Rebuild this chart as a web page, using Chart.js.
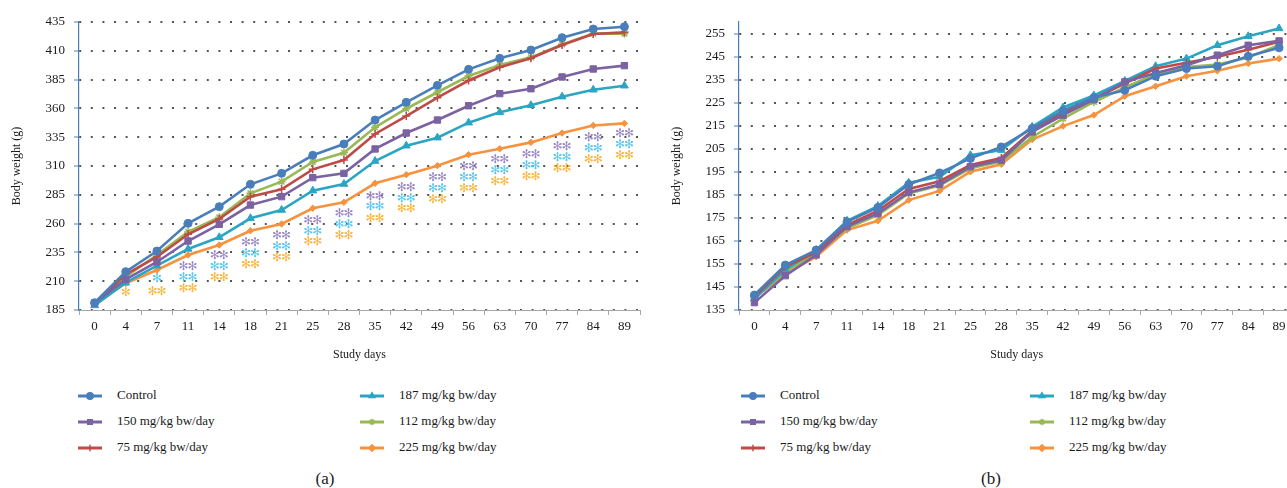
<!DOCTYPE html>
<html>
<head>
<meta charset="utf-8">
<script src="https://cdn.jsdelivr.net/npm/chart.js@4.4.1/dist/chart.umd.min.js"></script>
<style>
  html, body { margin: 0; padding: 0; background: #fff; width: 1287px; height: 488px; overflow: hidden; }
  .wrap { position: absolute; top: 0; width: 650px; height: 370px; }
  .leg { position: absolute; font: 13px "Liberation Serif", serif; color: #1a1a1a; white-space: nowrap; line-height: 14px; }
  .mark { position: absolute; }
  .cap { position: absolute; font: 17px "Liberation Serif", serif; color: #1a1a1a; transform: translateX(-50%); }
</style>
</head>
<body>
<div class="wrap" style="left:0"><canvas id="chartA"></canvas></div>
<div class="wrap" style="left:650px"><canvas id="chartB"></canvas></div>
<div id="legends"></div>
<div class="cap" style="left:325px;top:469px">(a)</div>
<div class="cap" style="left:991px;top:469px">(b)</div>
<script>
// x categories (study days)
const days = ["0", "4", "7", "11", "14", "18", "21", "25", "28", "35", "42", "49", "56", "63", "70", "77", "84", "89"];

// y tick labels
const yTicksA = [185, 210, 235, 260, 285, 310, 335, 360, 385, 410, 435];
const yTicksB = [135, 145, 155, 165, 175, 185, 195, 205, 215, 225, 235, 245, 255];

const seriesNames = ["Control", "150 mg/kg bw/day", "75 mg/kg bw/day", "187 mg/kg bw/day", "112 mg/kg bw/day", "225 mg/kg bw/day"];

// panel (a) body weights
const controlA = [191.3, 218.3, 236.2, 260.2, 274.7, 294.1, 303.6, 319.3, 329.1, 349.9, 365.3, 380.0, 393.9, 403.5, 410.7, 421.4, 428.9, 430.9];
const dose150A = [191, 211.6, 226.7, 244.9, 259.4, 276.1, 283.4, 299.9, 303.6, 324.8, 338.6, 349.9, 362.3, 372.8, 377.1, 387.3, 394.2, 397.1];
const dose75A = [191, 216, 231, 250.7, 264, 283.4, 289.8, 307.1, 315.2, 337.8, 353.4, 369.3, 384.2, 395.7, 403.5, 415, 424.6, 426];
const dose187A = [189, 208.7, 223.5, 238, 248.1, 264.6, 271.8, 288.6, 294.4, 314.3, 327.6, 334.6, 347.6, 356.6, 362.7, 370.2, 376.2, 379.7];
const dose112A = [191, 214, 232.7, 252.8, 265.5, 286.3, 296.4, 313.5, 321.5, 343.6, 359.7, 374, 388.1, 397.7, 404.3, 415.6, 424.9, 424.9];
const dose225A = [190.8, 208.2, 219.7, 232.7, 241.4, 253.8, 259.7, 273.3, 278.5, 295, 302.5, 310.3, 319.8, 325, 330.5, 338.6, 345.2, 347];

// panel (a) significance marks and where they sit
const stars150A = ["", "", "", "**", "**", "**", "**", "**", "**", "**", "**", "**", "**", "**", "**", "**", "**", "**"];
const stars150AY = [null, null, null, 222.6, 231.9, 242.9, 249.2, 262.3, 268.3, 283.4, 291.2, 299.3, 308.9, 315.2, 319.8, 326.5, 334.3, 337.5];
const stars187A = ["", "", "*", "**", "**", "**", "**", "**", "**", "**", "**", "**", "**", "**", "**", "**", "**", "**"];
const stars187AY = [null, null, 212, 213, 222.6, 233.6, 239.9, 253, 258.8, 274.3, 281.6, 290, 299.3, 305.7, 310.3, 316.9, 324.8, 328];
const stars225A = ["", "*", "**", "**", "**", "**", "**", "**", "**", "**", "**", "**", "**", "**", "**", "**", "**", "**"];
const stars225AY = [null, 199.7, 200.6, 203.5, 213, 224, 230.4, 243.8, 249.2, 264, 272.4, 280.5, 289.8, 296.1, 300.9, 307.4, 315.2, 318.4];

// panel (b) body weights
const controlB = [141.5, 154.5, 161, 173.3, 179.5, 189.5, 194.5, 200.8, 205.8, 213.8, 221.5, 227.2, 230.4, 236.5, 239.8, 240.8, 245.1, 248.8];
const dose150B = [138.2, 149.9, 158.9, 171.2, 176.9, 186, 189.5, 197.2, 200, 212.3, 219.6, 226.3, 234, 237.9, 241.2, 245.6, 249.9, 251.8];
const dose75B = [140.7, 153.8, 160, 171.9, 178.1, 187.5, 190.9, 197.9, 201, 212.8, 220.6, 226.8, 233.3, 239.8, 242.3, 244.9, 248, 251.4];
const dose187B = [140, 152.5, 161, 173.7, 180.1, 190.2, 192.8, 202.2, 204.4, 214.5, 222.9, 228.1, 234.4, 240.8, 244.1, 249.9, 253.8, 257.2];
const dose112B = [140, 151.6, 159.6, 170.5, 176.2, 185.6, 189, 196.5, 199.4, 210.1, 218.1, 225.3, 231.6, 237.4, 240.5, 241.5, 244.6, 250];
const dose225B = [140.3, 150.6, 158.1, 169.7, 173.7, 182.7, 186.7, 195, 198.2, 209, 214.8, 219.6, 227.8, 232.1, 236.5, 238.8, 242, 244.1];

// looks
const colors = ["#4a7ebb", "#7b62a3", "#be4b48", "#2aa6c4", "#98b954", "#f7923e"];
const markers = ["circle", "rect", "cross", "triangle", "star", "rectRot"];
const markerSize = [4, 4.5, 4, 4.5, 4, 3.2];
const serif = "'Liberation Serif', 'Times New Roman', serif";
const ink = "#1a1a1a";

function makeDatasets(seriesList) {
  return seriesList.map((values, i) => ({
    label: seriesNames[i],
    data: values,
    borderColor: colors[i],
    backgroundColor: colors[i],
    borderWidth: 2.6,
    pointStyle: markers[i],
    pointRadius: markerSize[i],
    pointBorderWidth: markers[i] === "cross" || markers[i] === "star" ? 1.5 : 1,
    pointBackgroundColor: colors[i],
    pointBorderColor: colors[i],
    tension: 0,
  }));
}

// draws the ** marks under the lines
const starPlugin = {
  id: "stars",
  afterDatasetsDraw(chart, args, opts) {
    if (!opts.rows) return;
    const { ctx, scales } = chart;
    ctx.save();
    ctx.font = "12px 'DejaVu Sans'";
    ctx.textAlign = "center";
    ctx.textBaseline = "middle";
    opts.rows.forEach((row) => {
      ctx.fillStyle = row.color;
      row.labels.forEach((lab, i) => {
        if (!lab) return;
        const px = scales.x.getPixelForValue(i);
        const py = scales.y.getPixelForValue(row.ys[i]);
        for (let k = 0; k < lab.length; k++) {
          ctx.fillText("✻", px + (k - (lab.length - 1) / 2) * 9, py);
        }
      });
    });
    ctx.restore();
  },
};

function makeChart(id, seriesList, yTicks, yMax, yWidth, titlePad, padRight, starRows) {
  return new Chart(document.getElementById(id), {
    type: "line",
    data: { labels: days, datasets: makeDatasets(seriesList) },
    plugins: [starPlugin],
    options: {
      responsive: true,
      maintainAspectRatio: false,
      animation: false,
      layout: { padding: { top: 22, right: padRight, bottom: 0, left: 0 } },
      plugins: {
        legend: { display: false },
        tooltip: { enabled: false },
        stars: { rows: starRows },
      },
      scales: {
        x: {
          offset: true,
          grid: { offset: true, drawOnChartArea: false, color: "#a6a6a6", tickLength: 5 },
          border: { color: "#a6a6a6", width: 1 },
          ticks: { font: { family: serif, size: 13 }, color: ink, padding: 4, maxRotation: 0, autoSkip: false },
          title: { display: true, text: "Study days", font: { family: serif, size: 12 }, color: ink, padding: { top: 0, bottom: 8 } },
          afterFit: (s) => { s.height = 60; },
        },
        y: {
          min: yTicks[0],
          max: yMax,
          afterBuildTicks: (s) => { s.ticks = yTicks.map((v) => ({ value: v })); },
          grid: { color: "#555", lineWidth: 2, tickColor: "#4a7ebb", tickLength: 5, tickWidth: 1, tickBorderDash: [] },
          border: { color: "#4a7ebb", width: 1.2, dash: [2, 9.6] },
          ticks: { font: { family: serif, size: 13 }, color: ink, padding: 9 },
          title: { display: true, text: "Body weight (g)", font: { family: serif, size: 12 }, color: ink, padding: { top: titlePad, bottom: 0 } },
          afterFit: (s) => { s.width = yWidth; },
        },
      },
    },
  });
}

makeChart("chartA", [controlA, dose150A, dose75A, dose187A, dose112A, dose225A], yTicksA, 435, 79, 9.5, 10, [
  { labels: stars150A, ys: stars150AY, color: "#9b87c4" },
  { labels: stars187A, ys: stars187AY, color: "#5cc6ee" },
  { labels: stars225A, ys: stars225AY, color: "#fbb43c" },
]);
makeChart("chartB", [controlB, dose150B, dose75B, dose187B, dose112B, dose225B], yTicksB, 260, 89, 19.5, 5, null);

// legends: two columns of three entries under each panel
function buildLegend(colX, rowY) {
  const host = document.getElementById("legends");
  seriesNames.forEach((name, i) => {
    const x = colX[Math.floor(i / 3)];
    const y = rowY[i % 3];
    const cv = document.createElement("canvas");
    cv.width = 26; cv.height = 14;
    cv.className = "mark";
    cv.style.left = (x - 1) + "px";
    cv.style.top = (y - 7) + "px";
    host.appendChild(cv);
    const c = cv.getContext("2d");
    c.strokeStyle = colors[i];
    c.fillStyle = colors[i];
    c.lineWidth = 3;
    c.beginPath(); c.moveTo(1, 7); c.lineTo(25, 7); c.stroke();
    c.lineWidth = 1.5;
    Chart.helpers.drawPoint(c, { pointStyle: markers[i], radius: 3.2, rotation: 0, borderWidth: 1.5 }, 13, 7);
    if (markers[i] !== "cross" && markers[i] !== "star") c.fill();
    const t = document.createElement("div");
    t.className = "leg";
    t.textContent = name;
    t.style.left = (x + 39) + "px";
    t.style.top = (y - 8) + "px";
    host.appendChild(t);
  });
}
buildLegend([78, 360], [396, 422, 448]);
buildLegend([741, 1030], [396, 422, 448]);
</script>
</body>
</html>
